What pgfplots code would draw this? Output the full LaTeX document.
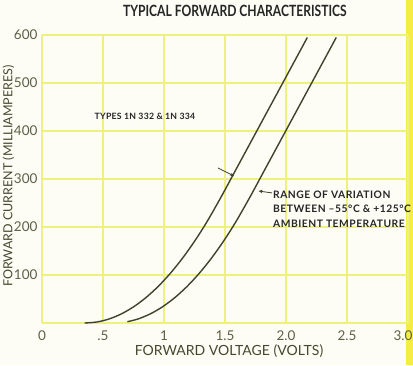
\documentclass[border=0pt]{standalone}
\usepackage{fontspec}
\setmainfont{Lato}
\newfontfamily\condfont[FakeStretch=0.78]{Lato}
\newfontfamily\annfont[LetterSpace=5]{Lato}
\newfontfamily\annfontb[LetterSpace=3]{Lato}
\usepackage{pgfplots}
\pgfplotsset{compat=1.18}
\usetikzlibrary{arrows.meta}
\definecolor{gridy}{RGB}{238,240,130}
\definecolor{bandy}{RGB}{246,236,70}
\definecolor{bg}{RGB}{253,253,246}
\definecolor{ink}{RGB}{62,68,44}
\definecolor{txt}{RGB}{72,72,48}
\definecolor{tick}{RGB}{95,95,70}
\begin{document}
\begin{tikzpicture}[x=1pt,y=1pt]
\useasboundingbox (-42,-42) rectangle (371,323);
\fill[bg] (-42,-42) rectangle (371,323);
\fill[bandy] (364,-42) rectangle (371,323);
\begin{axis}[
  scale only axis, width=366pt, height=288pt,
  at={(0,0)}, anchor=south west,
  xmin=0, xmax=3.0, ymin=0, ymax=600,
  axis line style={draw=none},
  grid=major, major grid style={gridy, line width=2.6pt},
  xtick={0,0.5,1,1.5,2,2.5},
  xticklabels={0,.5,1,1.5,2.0,2.5},
  extra x ticks={3}, extra x tick labels={3.0},
  extra x tick style={grid=major, xticklabel style={xshift=-5pt}},
  ytick={100,200,300,400,500,600},
  extra y ticks={0}, extra y tick labels={},
  tick style={draw=none},
  /pgf/number format/assume math mode=true,
  ticklabel style={font=\fontsize{13.5}{14}\selectfont, text=tick},
  xticklabel style={yshift=-4pt},
  yticklabel style={xshift=-1pt},
  title={\condfont\bfseries TYPICAL FORWARD CHARACTERISTICS},
  title style={at={(axis description cs:0.527,1.0625)}, anchor=center, font=\fontsize{15.5}{16}\selectfont, text=black!85},
  xlabel={FORWARD VOLTAGE (VOLTS)},
  ylabel={FORWARD CURRENT (MILLIAMPERES)},
  xlabel style={at={(axis description cs:0.511,-0.097)}, anchor=center, font=\fontsize{14}{15}\selectfont, text=txt},
  ylabel style={at={(axis description cs:-0.092,0.51)}, anchor=center, font=\fontsize{12.5}{14}\selectfont, text=txt},
  clip=false,
]
\addplot[ink, line width=1.4pt, smooth] coordinates {
(0.35,0) (0.45,2.1) (0.55,8.4) (0.65,18.9) (0.75,33.6) (0.85,52.5) (0.95,75.6)
(1.05,102.9) (1.15,134.4) (1.25,170.1) (1.35,210.0) (1.469,263.0) (1.60,324.6)
(1.75,395.1) (1.90,465.6) (2.05,536.1) (2.175,594.9)};
\addplot[ink, line width=1.4pt, smooth] coordinates {
(0.70,2.7) (0.787,8.4) (0.887,18.9) (0.987,33.6) (1.087,52.5) (1.187,75.6)
(1.287,102.9) (1.387,134.4) (1.487,170.1) (1.587,210.0) (1.706,263.0) (1.837,324.6)
(1.987,395.1) (2.137,465.6) (2.287,536.1) (2.412,594.9)};
\node[anchor=west, inner sep=0pt, font=\annfontb\bfseries\fontsize{8.7}{10}\selectfont, text=black!85]
  at (axis cs:0.43,431) {TYPES 1N 332 \& 1N 334};
\node[anchor=north west, inner sep=0pt, align=left, font=\annfont\bfseries\fontsize{10.3}{14.5}\selectfont, text=black!85]
  at (axis cs:1.893,276) {RANGE OF VARIATION\\BETWEEN \textendash55\textdegree C \& +125\textdegree C\\AMBIENT TEMPERATURE};
\draw[ink, line width=0.8pt, -{Stealth[length=4pt,width=3.5pt]}] (axis cs:1.443,323) -- (axis cs:1.575,306);
\draw[ink, line width=0.8pt, -{Stealth[length=4pt,width=3.5pt]}] (axis cs:1.885,271) -- (axis cs:1.775,275);
\end{axis}
\end{tikzpicture}
\end{document}
